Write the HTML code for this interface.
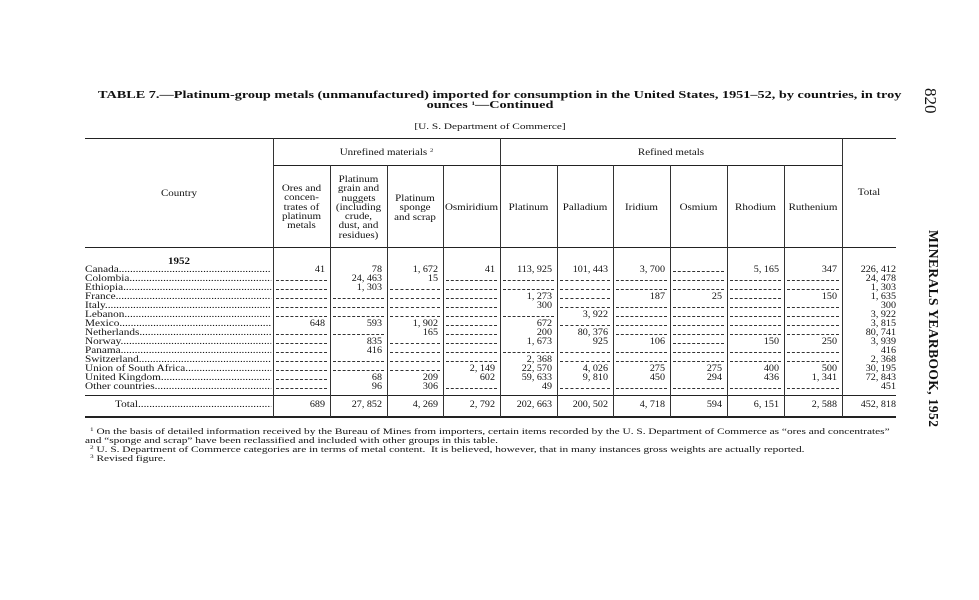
<!DOCTYPE html>
<html><head><meta charset="utf-8">
<style>
body{margin:0;background:#fff;}
#p{position:relative;width:979px;height:600px;overflow:hidden;font-family:"Liberation Serif",serif;color:#111;}
.a{position:absolute;white-space:nowrap;}
.h{position:absolute;background:#222;height:1px;}
.v{position:absolute;background:#333;width:1px;}
.row{position:absolute;left:0;width:979px;height:9px;font-size:9px;line-height:9px;}
.nm{position:absolute;left:85px;width:149px;overflow:hidden;white-space:nowrap;transform:scaleX(1.25);transform-origin:left top;}
.c{position:absolute;text-align:right;white-space:nowrap;transform:scaleX(1.12);transform-origin:right top;}
.d{position:absolute;top:6px;height:0;border-top:1px dashed #333;}
.hd{position:absolute;text-align:center;font-size:9px;line-height:9.3px;transform:scaleX(1.22);transform-origin:center top;}
.fn{position:absolute;white-space:nowrap;font-size:8.6px;line-height:9px;transform:scaleX(1.32);transform-origin:left top;}
.sp{font-size:5.5px;vertical-align:3px;line-height:0;}
</style></head><body><div id="p">
<div class="a" style="left:98px;top:90px;font-size:10.6px;font-weight:bold;transform:scaleX(1.345);transform-origin:left top;">TABLE 7.—Platinum-group metals (unmanufactured) imported for consumption in the United States, 1951–52, by countries, in troy</div>
<div class="a" style="left:0;width:980px;text-align:center;top:100px;font-size:10.6px;font-weight:bold;transform:scaleX(1.345);transform-origin:center top;">ounces <span class="sp">1</span>—Continued</div>
<div class="a" style="left:0;width:980px;text-align:center;top:121px;font-size:8.5px;transform:scaleX(1.33);transform-origin:center top;">[U. S. Department of Commerce]</div>
<div class="a" style="top:88px;font-size:17px;transform:rotate(90deg);transform-origin:left top;left:940px;">820</div>
<div class="a" style="left:941px;top:230px;font-size:13.5px;font-weight:bold;transform:rotate(90deg);transform-origin:left top;letter-spacing:0.4px;">MINERALS YEARBOOK, 1952</div>

<div class="h" style="left:85px;top:138px;width:811px;"></div>
<div class="h" style="left:273px;top:165px;width:569px;"></div>
<div class="h" style="left:85px;top:247px;width:811px;"></div>
<div class="h" style="left:85px;top:395px;width:811px;"></div>
<div class="h" style="left:85px;top:416px;width:811px;height:2px;"></div>
<div class="v" style="left:273px;top:138px;height:279px;"></div>
<div class="v" style="left:500px;top:138px;height:279px;"></div>
<div class="v" style="left:842px;top:138px;height:279px;"></div>
<div class="v" style="left:330px;top:165px;height:252px;"></div>
<div class="v" style="left:387px;top:165px;height:252px;"></div>
<div class="v" style="left:443px;top:165px;height:252px;"></div>
<div class="v" style="left:557px;top:165px;height:252px;"></div>
<div class="v" style="left:613px;top:165px;height:252px;"></div>
<div class="v" style="left:670px;top:165px;height:252px;"></div>
<div class="v" style="left:727px;top:165px;height:252px;"></div>
<div class="v" style="left:784px;top:165px;height:252px;"></div>

<div class="hd" style="left:273px;width:227px;top:148px;">Unrefined materials <span class="sp">2</span></div>
<div class="hd" style="left:500px;width:342px;top:148px;">Refined metals</div>
<div class="hd" style="left:85px;width:188px;top:189px;">Country</div>
<div class="hd" style="left:842px;width:54px;top:188px;">Total</div>
<div class="hd" style="left:273px;width:57px;top:184px;">Ores and<br>concen-<br>trates of<br>platinum<br>metals</div>
<div class="hd" style="left:330px;width:57px;top:175px;">Platinum<br>grain and<br>nuggets<br>(including<br>crude,<br>dust, and<br>residues)</div>
<div class="hd" style="left:387px;width:56px;top:194px;">Platinum<br>sponge<br>and scrap</div>
<div class="hd" style="left:443px;width:57px;top:203px;">Osmiridium</div>
<div class="hd" style="left:500px;width:57px;top:203px;">Platinum</div>
<div class="hd" style="left:557px;width:56px;top:203px;">Palladium</div>
<div class="hd" style="left:613px;width:57px;top:203px;">Iridium</div>
<div class="hd" style="left:670px;width:57px;top:203px;">Osmium</div>
<div class="hd" style="left:727px;width:57px;top:203px;">Rhodium</div>
<div class="hd" style="left:784px;width:58px;top:203px;">Ruthenium</div>
<div class="hd" style="left:85px;width:188px;top:257px;font-weight:bold;">1952</div>

<div class="row" style="top:265px"><div class="nm">Canada..................................................................</div>
<div class="c" style="left:273px;width:52px">41</div><div class="c" style="left:330px;width:52px">78</div><div class="c" style="left:387px;width:51px">1, 672</div><div class="c" style="left:443px;width:52px">41</div><div class="c" style="left:500px;width:52px">113, 925</div><div class="c" style="left:557px;width:51px">101, 443</div><div class="c" style="left:613px;width:52px">3, 700</div><div class="d" style="left:673px;width:51px"></div><div class="c" style="left:727px;width:52px">5, 165</div><div class="c" style="left:784px;width:53px">347</div><div class="c" style="left:842px;width:54px">226, 412</div></div>

<div class="row" style="top:274px"><div class="nm">Colombia..................................................................</div>
<div class="d" style="left:276px;width:51px"></div><div class="c" style="left:330px;width:52px">24, 463</div><div class="c" style="left:387px;width:51px">15</div><div class="d" style="left:446px;width:51px"></div><div class="d" style="left:503px;width:51px"></div><div class="d" style="left:560px;width:50px"></div><div class="d" style="left:616px;width:51px"></div><div class="d" style="left:673px;width:51px"></div><div class="d" style="left:730px;width:51px"></div><div class="d" style="left:787px;width:52px"></div><div class="c" style="left:842px;width:54px">24, 478</div></div>

<div class="row" style="top:283px"><div class="nm">Ethiopia..................................................................</div>
<div class="d" style="left:276px;width:51px"></div><div class="c" style="left:330px;width:52px">1, 303</div><div class="d" style="left:390px;width:50px"></div><div class="d" style="left:446px;width:51px"></div><div class="d" style="left:503px;width:51px"></div><div class="d" style="left:560px;width:50px"></div><div class="d" style="left:616px;width:51px"></div><div class="d" style="left:673px;width:51px"></div><div class="d" style="left:730px;width:51px"></div><div class="d" style="left:787px;width:52px"></div><div class="c" style="left:842px;width:54px">1, 303</div></div>

<div class="row" style="top:292px"><div class="nm">France..................................................................</div>
<div class="d" style="left:276px;width:51px"></div><div class="d" style="left:333px;width:51px"></div><div class="d" style="left:390px;width:50px"></div><div class="d" style="left:446px;width:51px"></div><div class="c" style="left:500px;width:52px">1, 273</div><div class="d" style="left:560px;width:50px"></div><div class="c" style="left:613px;width:52px">187</div><div class="c" style="left:670px;width:52px">25</div><div class="d" style="left:730px;width:51px"></div><div class="c" style="left:784px;width:53px">150</div><div class="c" style="left:842px;width:54px">1, 635</div></div>

<div class="row" style="top:301px"><div class="nm">Italy..................................................................</div>
<div class="d" style="left:276px;width:51px"></div><div class="d" style="left:333px;width:51px"></div><div class="d" style="left:390px;width:50px"></div><div class="d" style="left:446px;width:51px"></div><div class="c" style="left:500px;width:52px">300</div><div class="d" style="left:560px;width:50px"></div><div class="d" style="left:616px;width:51px"></div><div class="d" style="left:673px;width:51px"></div><div class="d" style="left:730px;width:51px"></div><div class="d" style="left:787px;width:52px"></div><div class="c" style="left:842px;width:54px">300</div></div>

<div class="row" style="top:310px"><div class="nm">Lebanon..................................................................</div>
<div class="d" style="left:276px;width:51px"></div><div class="d" style="left:333px;width:51px"></div><div class="d" style="left:390px;width:50px"></div><div class="d" style="left:446px;width:51px"></div><div class="d" style="left:503px;width:51px"></div><div class="c" style="left:557px;width:51px">3, 922</div><div class="d" style="left:616px;width:51px"></div><div class="d" style="left:673px;width:51px"></div><div class="d" style="left:730px;width:51px"></div><div class="d" style="left:787px;width:52px"></div><div class="c" style="left:842px;width:54px">3, 922</div></div>

<div class="row" style="top:319px"><div class="nm">Mexico..................................................................</div>
<div class="c" style="left:273px;width:52px">648</div><div class="c" style="left:330px;width:52px">593</div><div class="c" style="left:387px;width:51px">1, 902</div><div class="d" style="left:446px;width:51px"></div><div class="c" style="left:500px;width:52px">672</div><div class="d" style="left:560px;width:50px"></div><div class="d" style="left:616px;width:51px"></div><div class="d" style="left:673px;width:51px"></div><div class="d" style="left:730px;width:51px"></div><div class="d" style="left:787px;width:52px"></div><div class="c" style="left:842px;width:54px">3, 815</div></div>

<div class="row" style="top:328px"><div class="nm">Netherlands..................................................................</div>
<div class="d" style="left:276px;width:51px"></div><div class="d" style="left:333px;width:51px"></div><div class="c" style="left:387px;width:51px">165</div><div class="d" style="left:446px;width:51px"></div><div class="c" style="left:500px;width:52px">200</div><div class="c" style="left:557px;width:51px">80, 376</div><div class="d" style="left:616px;width:51px"></div><div class="d" style="left:673px;width:51px"></div><div class="d" style="left:730px;width:51px"></div><div class="d" style="left:787px;width:52px"></div><div class="c" style="left:842px;width:54px">80, 741</div></div>

<div class="row" style="top:337px"><div class="nm">Norway..................................................................</div>
<div class="d" style="left:276px;width:51px"></div><div class="c" style="left:330px;width:52px">835</div><div class="d" style="left:390px;width:50px"></div><div class="d" style="left:446px;width:51px"></div><div class="c" style="left:500px;width:52px">1, 673</div><div class="c" style="left:557px;width:51px">925</div><div class="c" style="left:613px;width:52px">106</div><div class="d" style="left:673px;width:51px"></div><div class="c" style="left:727px;width:52px">150</div><div class="c" style="left:784px;width:53px">250</div><div class="c" style="left:842px;width:54px">3, 939</div></div>

<div class="row" style="top:346px"><div class="nm">Panama..................................................................</div>
<div class="d" style="left:276px;width:51px"></div><div class="c" style="left:330px;width:52px">416</div><div class="d" style="left:390px;width:50px"></div><div class="d" style="left:446px;width:51px"></div><div class="d" style="left:503px;width:51px"></div><div class="d" style="left:560px;width:50px"></div><div class="d" style="left:616px;width:51px"></div><div class="d" style="left:673px;width:51px"></div><div class="d" style="left:730px;width:51px"></div><div class="d" style="left:787px;width:52px"></div><div class="c" style="left:842px;width:54px">416</div></div>

<div class="row" style="top:355px"><div class="nm">Switzerland..................................................................</div>
<div class="d" style="left:276px;width:51px"></div><div class="d" style="left:333px;width:51px"></div><div class="d" style="left:390px;width:50px"></div><div class="d" style="left:446px;width:51px"></div><div class="c" style="left:500px;width:52px">2, 368</div><div class="d" style="left:560px;width:50px"></div><div class="d" style="left:616px;width:51px"></div><div class="d" style="left:673px;width:51px"></div><div class="d" style="left:730px;width:51px"></div><div class="d" style="left:787px;width:52px"></div><div class="c" style="left:842px;width:54px">2, 368</div></div>

<div class="row" style="top:364px"><div class="nm">Union of South Africa..................................................................</div>
<div class="d" style="left:276px;width:51px"></div><div class="d" style="left:333px;width:51px"></div><div class="d" style="left:390px;width:50px"></div><div class="c" style="left:443px;width:52px">2, 149</div><div class="c" style="left:500px;width:52px">22, 570</div><div class="c" style="left:557px;width:51px">4, 026</div><div class="c" style="left:613px;width:52px">275</div><div class="c" style="left:670px;width:52px">275</div><div class="c" style="left:727px;width:52px">400</div><div class="c" style="left:784px;width:53px">500</div><div class="c" style="left:842px;width:54px">30, 195</div></div>

<div class="row" style="top:373px"><div class="nm">United Kingdom..................................................................</div>
<div class="d" style="left:276px;width:51px"></div><div class="c" style="left:330px;width:52px">68</div><div class="c" style="left:387px;width:51px">209</div><div class="c" style="left:443px;width:52px">602</div><div class="c" style="left:500px;width:52px">59, 633</div><div class="c" style="left:557px;width:51px">9, 810</div><div class="c" style="left:613px;width:52px">450</div><div class="c" style="left:670px;width:52px">294</div><div class="c" style="left:727px;width:52px">436</div><div class="c" style="left:784px;width:53px">1, 341</div><div class="c" style="left:842px;width:54px">72, 843</div></div>

<div class="row" style="top:382px"><div class="nm">Other countries..................................................................</div>
<div class="d" style="left:276px;width:51px"></div><div class="c" style="left:330px;width:52px">96</div><div class="c" style="left:387px;width:51px">306</div><div class="d" style="left:446px;width:51px"></div><div class="c" style="left:500px;width:52px">49</div><div class="d" style="left:560px;width:50px"></div><div class="d" style="left:616px;width:51px"></div><div class="d" style="left:673px;width:51px"></div><div class="d" style="left:730px;width:51px"></div><div class="d" style="left:787px;width:52px"></div><div class="c" style="left:842px;width:54px">451</div></div>

<div class="row" style="top:400px"><div class="nm" style="left:115px;width:125px">Total..................................................................</div>
<div class="c" style="left:273px;width:52px">689</div><div class="c" style="left:330px;width:52px">27, 852</div><div class="c" style="left:387px;width:51px">4, 269</div><div class="c" style="left:443px;width:52px">2, 792</div><div class="c" style="left:500px;width:52px">202, 663</div><div class="c" style="left:557px;width:51px">200, 502</div><div class="c" style="left:613px;width:52px">4, 718</div><div class="c" style="left:670px;width:52px">594</div><div class="c" style="left:727px;width:52px">6, 151</div><div class="c" style="left:784px;width:53px">2, 588</div><div class="c" style="left:842px;width:54px">452, 818</div></div>

<div class="fn" style="left:90px;top:427px;"><span class="sp">1</span> On the basis of detailed information received by the Bureau of Mines from importers, certain items recorded by the U. S. Department of Commerce as “ores and concentrates”</div>
<div class="fn" style="left:85px;top:436px;">and “sponge and scrap” have been reclassified and included with other groups in this table.</div>
<div class="fn" style="left:90px;top:445px;"><span class="sp">2</span> U. S. Department of Commerce categories are in terms of metal content.&nbsp; It is believed, however, that in many instances gross weights are actually reported.</div>
<div class="fn" style="left:90px;top:454px;"><span class="sp">3</span> Revised figure.</div>
</div></body></html>
